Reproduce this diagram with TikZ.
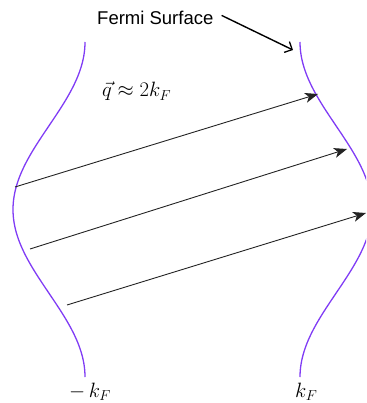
\documentclass[tikz,border=0pt]{standalone}
\usepackage{fontspec}
\newfontfamily\arialfont{Liberation Sans}
\usetikzlibrary{arrows.meta}
\definecolor{fermiviolet}{RGB}{128,60,245}
\definecolor{qline}{RGB}{35,35,35}
\tikzset{
  fermicurve/.style={draw=fermiviolet, line width=1.3pt},
  qarrow/.style={draw=qline, line width=0.9pt, -{Stealth[length=13pt,width=10pt,inset=3.5pt]}},
  labelarrow/.style={draw=black, line width=1.4pt, -{Straight Barb[length=6pt,width=12pt,line width=1.3pt]}},
  mathlabel/.style={inner sep=0pt, anchor=base west, font=\fontsize{22}{26}\selectfont},
  textlabel/.style={inner sep=0pt, anchor=base west, font=\arialfont\fontsize{18.5}{22}\selectfont}
}
\begin{document}
\begin{tikzpicture}[x=1pt, y=-1pt]
\clip (0,0) rectangle (366,403);
% Fermi surfaces
\draw[fermicurve] plot[domain=42:377, samples=120, smooth] ({49-36*cos((\x-209.5)*1.074627)}, {\x});
\draw[fermicurve] plot[domain=42:377, samples=120, smooth] ({336+36*cos((\x-209.5)*1.074627)}, {\x});
% nesting vectors
\coordinate (a1s) at (15,187);
\coordinate (a1e) at (318,94);
\coordinate (a2s) at (30,249);
\coordinate (a2e) at (347,149);
\coordinate (a3s) at (67,305);
\coordinate (a3e) at (366,213);
\draw[qarrow] (a1s) -- (a1e);
\draw[qarrow] (a2s) -- (a2e);
\draw[qarrow] (a3s) -- (a3e);
% labels
\node[textlabel] (fs) at (97,25) {Fermi Surface};
\coordinate (fsend) at (293,50);
\draw[labelarrow] ([xshift=8pt,yshift=3pt]fs.east) -- (fsend);
\node[mathlabel] (q) at (102,97) {$\vec{q}\approx 2k_F$};
\node[mathlabel] (mkf) at (69,397) {$-\,k_F$};
\node[mathlabel] (kf) at (295,397) {$k_F$};
\end{tikzpicture}
\end{document}
